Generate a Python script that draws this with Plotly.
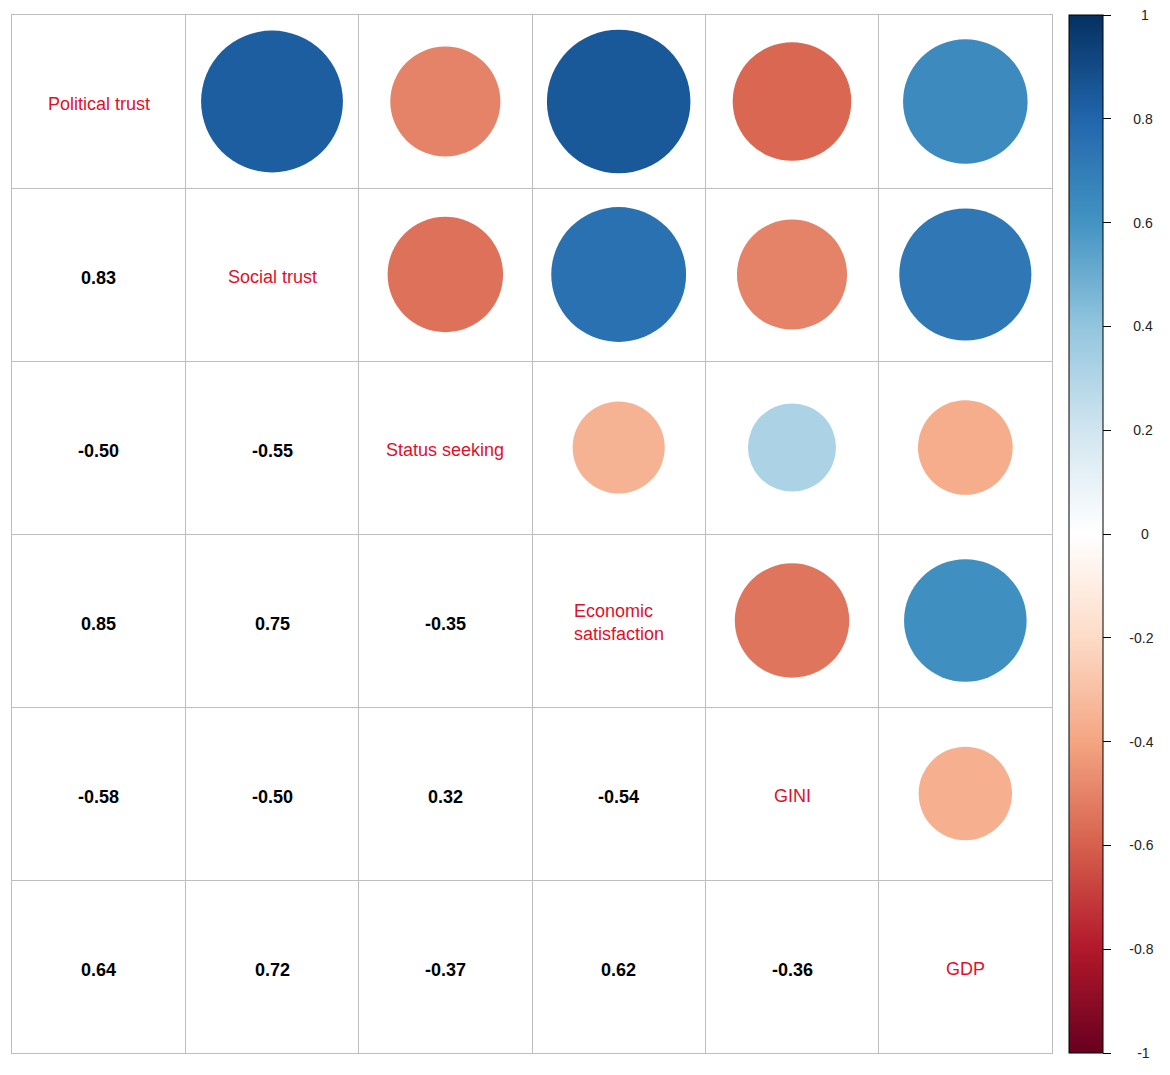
import numpy as np
import plotly.graph_objects as go

# variables (diagonal labels), top to bottom / left to right
labels = ["Political trust", "Social trust", "Status seeking",
          "Economic<br>satisfaction", "GINI", "GDP"]

# correlation matrix rows
political_trust = [1.00, 0.83, -0.50, 0.85, -0.58, 0.64]
social_trust = [0.83, 1.00, -0.55, 0.75, -0.50, 0.72]
status_seeking = [-0.50, -0.55, 1.00, -0.35, 0.32, -0.37]
economic_satisfaction = [0.85, 0.75, -0.35, 1.00, -0.54, 0.62]
gini = [-0.58, -0.50, 0.32, -0.54, 1.00, -0.36]
gdp = [0.64, 0.72, -0.37, 0.62, -0.36, 1.00]

cbar_vals = [1, 0.8, 0.6, 0.4, 0.2, 0, -0.2, -0.4, -0.6, -0.8, -1]
cbar_text = ["1", "0.8", "0.6", "0.4", "0.2", "0", "-0.2", "-0.4", "-0.6", "-0.8", "-1"]

# corrplot COL2('RdBu')
rdbu = ["#67001F", "#B2182B", "#D6604D", "#F4A582", "#FDDBC7", "#FFFFFF",
        "#D1E5F0", "#92C5DE", "#4393C3", "#2166AC", "#053061"]
colorscale = [[i / 10, c] for i, c in enumerate(rdbu)]

M = np.array([political_trust, social_trust, status_seeking,
              economic_satisfaction, gini, gdp])
n = len(labels)
FONT = "Liberation Sans, Arial, sans-serif"

W, H = 1170, 1075
# page body adds 8px, so margins are shifted by that
margin = dict(l=4, r=126, t=7, b=30)
plot_w = W - margin["l"] - margin["r"]
cell = (H - margin["t"] - margin["b"]) / n

# upper triangle -> circles, lower -> numbers
cx, cy, cv = [], [], []
tx, ty, tv = [], [], []
for i in range(n):
    for j in range(n):
        if j > i:
            cx.append(j + 1)
            cy.append(i + 1)
            cv.append(M[i, j])
        elif j < i:
            tx.append(j + 1)
            ty.append(i + 1)
            tv.append("%.2f" % M[i, j])

cv = np.array(cv)
sizes = 0.9 * cell * np.sqrt(np.abs(cv))

# pad tick labels away from the ticks, centred-ish like R's legend
pad = "\u00a0" * 4
tick_labels = [pad + ("\u00a0" if not t.startswith("-") else "") +
               ("\u00a0\u00a0" if len(t.lstrip("-")) == 1 else "") + t
               for t in cbar_text]

fig = go.Figure()

fig.add_trace(go.Scatter(
    x=cx, y=cy, mode="markers",
    marker=dict(size=sizes, color=cv, colorscale=colorscale, cmin=-1, cmax=1,
                line=dict(width=0), opacity=1,
                showscale=True,
                colorbar=dict(
                    x=(1069 - 8 - margin["l"]) / plot_w,
                    xanchor="left", y=0.5, yanchor="middle", len=1,
                    xpad=0, ypad=0,
                    thickness=34, outlinewidth=1, outlinecolor="black",
                    ticks="outside", ticklen=8, tickcolor="black", tickwidth=1,
                    tickvals=cbar_vals, ticktext=tick_labels,
                    ticklabeloverflow="allow",
                    tickfont=dict(size=14, color="#222222", family=FONT),
                )),
    hoverinfo="skip", showlegend=False,
))

# correlation coefficients in the lower triangle
for x, y, t in zip(tx, ty, tv):
    fig.add_annotation(
        x=x, y=y, xref="x", yref="y", text="<b>%s</b>" % t, showarrow=False,
        xanchor="center", yanchor="middle", yshift=-3,
        font=dict(size=18, color="black", family=FONT),
    )

# variable names on the diagonal
for k, lab in enumerate(labels):
    fig.add_annotation(
        x=k + 1, y=k + 1, xref="x", yref="y", text=lab, showarrow=False,
        align="left", xanchor="center", yanchor="middle", yshift=-2,
        font=dict(size=18, color="#E0102A", family=FONT),
    )

edges = [k + 0.5 for k in range(n + 1)]
axis_common = dict(
    tickvals=edges, showticklabels=False, ticks="",
    showgrid=True, gridcolor="#BEBEBE", gridwidth=1,
    zeroline=False, showline=True, mirror=True, linecolor="#BEBEBE", linewidth=1,
    fixedrange=True,
)

fig.update_layout(
    width=W, height=H, margin=margin,
    paper_bgcolor="white", plot_bgcolor="white",
    xaxis=dict(range=[0.5, n + 0.5], **axis_common),
    yaxis=dict(range=[n + 0.5, 0.5], **axis_common),
)

fig.write_html("out.html")
